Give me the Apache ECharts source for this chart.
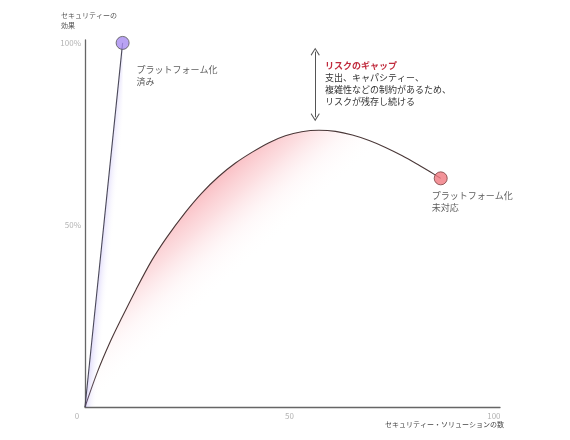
<!DOCTYPE html>
<html>
<head>
<meta charset="utf-8">
<script src="https://cdn.jsdelivr.net/npm/echarts@6/dist/echarts.min.js"></script>
<style>html,body{margin:0;padding:0;background:#fff}#c{width:570px;height:440px}</style>
</head>
<body>
<div id="c"></div>
<script>
// ---- data ----
var platformLine = [[0, 0], [9.2, 100]];
var legacyCurve = [[0, 0], [3, 9.5], [6, 17.5], [9, 24.5], [12.5, 32.3], [16.3, 40.2], [20, 46.6], [24.5, 53.4], [28.5, 58.7], [32.7, 63.3], [36.8, 67], [40.9, 70], [45, 72.6], [49, 74.5], [53, 75.6], [57.2, 76], [61.3, 75.7], [65.4, 74.7], [69.5, 73.2], [73.5, 71.3], [77.6, 69], [81.7, 66.4], [84.4, 64.6], [87, 62.8]];
var platformLabel = 'プラットフォーム化\n済み';
var legacyLabel = 'プラットフォーム化\n未対応';
var gapRange = [[56.3, 97.6], [56.3, 79.6]];
var gapTitle = 'リスクのギャップ';
var gapLines = ['支出、キャパシティー、', '複雑性などの制約があるため、', 'リスクが残存し続ける'];
var xTicks = [0, 50, 100];
var yTicks = [50, 100];
var yName = 'セキュリティーの\n効果';
var xName = 'セキュリティー・ソリューションの数';

var FONT = '"Noto Sans CJK JP", "Noto Sans", sans-serif';
var chevron = 'path://M0,0 L6,7 L5.1,7.9 L0,1.8 L-5.1,7.9 L-6,7 Z';

var chart = echarts.init(document.getElementById('c'), null, {renderer: 'canvas'});
chart.setOption({
  animation: false,
  backgroundColor: '#fff',
  textStyle: {fontFamily: FONT},
  grid: {left: 85, right: 70, top: 40, bottom: 33, containLabel: false},
  title: [
    {text: yName, left: 56, top: 5, textStyle: {fontSize: 7, fontWeight: 'normal', color: '#555', lineHeight: 10, fontFamily: FONT}},
    {text: xName, right: 61, top: 416, textStyle: {fontSize: 7, fontWeight: 'normal', color: '#444', fontFamily: FONT}}
  ],
  xAxis: {
    type: 'value', min: 0, max: 101.5, interval: 50,
    axisLine: {show: true, lineStyle: {color: '#666', width: 1.3}},
    axisTick: {show: false}, splitLine: {show: false},
    axisLabel: {
      color: '#b3b3b3', fontSize: 8, margin: 5, showMaxLabel: false,
      formatter: function (v) {
        if (xTicks.indexOf(v) < 0) return '';
        return v === 0 ? '{o|0}' : String(v);
      },
      rich: {o: {color: '#b3b3b3', fontSize: 8, padding: [0, 16, 0, 0]}}
    }
  },
  yAxis: {
    type: 'value', min: 0, max: 100.8, interval: 50,
    axisLine: {show: true, lineStyle: {color: '#666', width: 1.3}},
    axisTick: {show: false}, splitLine: {show: false},
    axisLabel: {
      color: '#b3b3b3', fontSize: 8, margin: 4, showMaxLabel: false,
      formatter: function (v) { return yTicks.indexOf(v) < 0 ? '' : v + '%'; }
    }
  },
  series: [
    {
      type: 'line', data: legacyCurve, smooth: 0.3, symbol: 'none',
      lineStyle: {color: '#4a3838', width: 1.1},
      areaStyle: {
        color: {type: 'linear', x: 0, y: 0, x2: 0.7, y2: 1, colorStops: [
          {offset: 0, color: 'rgba(240,70,85,0.9)'},
          {offset: 0.3, color: 'rgba(242,95,108,0.72)'},
          {offset: 0.4, color: 'rgba(246,150,158,0.45)'},
          {offset: 0.48, color: 'rgba(251,210,214,0.2)'},
          {offset: 0.56, color: 'rgba(255,255,255,0)'},
          {offset: 1, color: 'rgba(255,255,255,0)'}
        ]}
      },
      markLine: {
        silent: true, symbol: [chevron, chevron], symbolSize: [9, 8],
        lineStyle: {color: '#555', width: 1, type: 'solid'},
        label: {show: false},
        data: [[{coord: gapRange[0]}, {coord: gapRange[1]}]]
      },
      z: 2
    },
    {
      type: 'line', data: platformLine, symbol: 'none',
      lineStyle: {color: '#4a4858', width: 1.1},
      areaStyle: {
        color: {type: 'linear', x: 0, y: 1, x2: 0.3, y2: 1.003, colorStops: [
          {offset: 0, color: 'rgba(140,120,240,0.4)'},
          {offset: 1, color: 'rgba(255,255,255,0)'}
        ]}
      },
      z: 3
    },
    {
      type: 'scatter', symbol: 'circle', symbolSize: 13,
      data: [{
        value: platformLine[platformLine.length - 1],
        itemStyle: {color: '#a88cf0', borderColor: '#555', borderWidth: 1},
        label: {show: true, formatter: platformLabel, position: [21, 28], align: 'left', verticalAlign: 'top',
          fontSize: 9, lineHeight: 12, color: '#333', fontFamily: FONT}
      }, {
        value: legacyCurve[legacyCurve.length - 1],
        itemStyle: {color: '#f07880', borderColor: '#7a4040', borderWidth: 1},
        label: {show: true, formatter: legacyLabel, position: [-2, 18], align: 'left', verticalAlign: 'top',
          fontSize: 9, lineHeight: 12, color: '#333', fontFamily: FONT}
      }],
      z: 5
    }
  ],
  graphic: [{
    type: 'text', left: 325, top: 61,
    style: {
      text: '{t|' + gapTitle + '}\n' + gapLines.map(function (s) { return '{b|' + s + '}'; }).join('\n'),
      rich: {
        t: {fontSize: 9, fontWeight: 'bold', fill: '#c02a3c', lineHeight: 13, fontFamily: FONT},
        b: {fontSize: 9, fill: '#333', lineHeight: 12, fontFamily: FONT}
      }
    }
  }]
});
</script>
</body>
</html>
